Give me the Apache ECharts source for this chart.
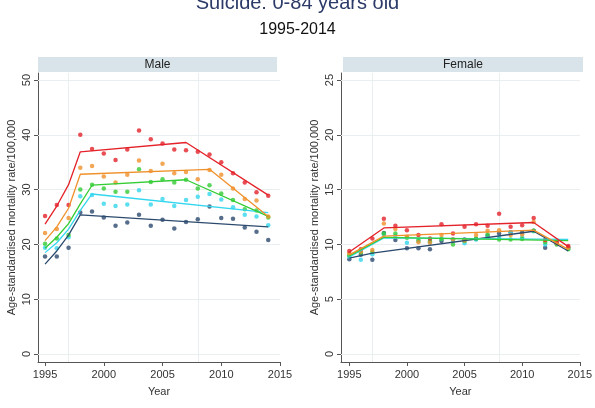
<!DOCTYPE html>
<html>
<head>
<meta charset="utf-8">
<script src="https://cdn.jsdelivr.net/npm/echarts@6/dist/echarts.min.js"></script>
<style>html,body{margin:0;padding:0;background:#fff;}#c{width:595px;height:408px;}</style>
</head>
<body>
<div id="c"></div>
<script>
const n = null;
const years = [1995,1996,1997,1998,1999,2000,2001,2002,2003,2004,2005,2006,2007,2008,2009,2010,2011,2012,2013,2014];
const xTicks = [1995,2000,2005,2010,2015];
const xGridYears = [1997,2008];
const maleYTicks = [0,10,20,30,40,50];
const femaleYTicks = [0,5,10,15,20,25];

// Male observed rates
const maleRed    = [25.2,27.2,27.2,40.0,37.4,36.6,35.4,37.3,40.8,39.2,38.4,37.3,37.2,36.9,36.4,35.0,33.0,31.3,29.5,28.9];
const maleOrange = [22.1,22.8,24.8,34.0,34.3,32.4,31.3,32.7,35.3,33.4,34.7,33.0,33.2,31.9,33.6,32.7,30.2,28.3,28.0,25.1];
const maleGreen  = [20.1,21.1,21.7,30.0,30.9,30.2,29.6,29.6,33.7,31.4,31.9,31.3,31.8,30.2,30.8,29.3,28.1,26.4,26.2,24.9];
const maleCyan   = [19.4,19.3,21.3,28.8,29.0,27.4,27.0,27.3,29.9,27.3,28.3,27.0,28.1,28.7,29.2,28.2,26.8,25.4,25.1,23.5];
const maleNavy   = [17.8,17.8,19.4,25.8,26.0,24.9,23.4,24.0,25.4,23.4,24.5,22.9,24.1,24.6,26.9,24.8,24.7,23.1,22.3,20.8];
// Male fitted
const maleRedFit    = [23.7,27.0,30.9,36.9,n,n,n,n,n,n,n,n,38.6,n,n,n,n,n,n,29.0];
const maleOrangeFit = [20.7,23.2,26.6,32.8,n,n,n,n,n,n,n,n,n,n,33.7,n,n,n,n,25.1];
const maleGreenFit  = [19.3,21.3,23.8,27.4,30.8,n,n,n,n,n,n,n,31.8,n,n,n,n,n,n,25.1];
const maleCyanFit   = [18.5,20.3,22.8,26.2,29.2,n,n,n,n,n,n,n,n,n,n,n,n,n,n,25.8];
const maleNavyFit   = [16.4,18.8,21.7,25.4,n,n,n,n,n,n,n,n,n,n,n,n,n,n,n,23.2];

// Female observed rates
const femaleRed    = [9.4,9.55,10.55,12.35,11.7,11.3,10.85,10.55,11.85,11.0,11.6,11.85,11.7,12.8,11.6,11.75,12.4,10.4,10.2,9.85];
const femaleOrange = [9.2,9.35,9.5,11.9,11.4,10.7,10.2,10.15,10.85,10.45,10.35,10.85,11.25,11.3,10.85,10.9,12.05,10.4,10.1,9.7];
const femaleGreen  = [9.0,9.25,9.3,11.0,11.0,10.6,10.4,10.3,10.5,10.0,10.3,10.55,10.9,10.45,10.45,10.5,11.25,10.2,10.0,9.55];
const femaleCyan   = [8.9,8.6,9.1,10.9,10.8,10.15,10.3,10.2,10.5,10.3,10.1,10.45,10.7,10.6,11.1,10.65,11.2,10.0,10.05,9.6];
const femaleNavy   = [8.65,9.05,8.6,11.05,10.4,9.65,9.65,9.55,10.3,10.45,10.45,10.5,10.8,11.0,11.1,11.1,11.25,9.7,10.2,9.75];
// Female fitted
const femaleRedFit    = [9.3,n,n,11.5,n,n,n,n,n,n,n,n,n,n,n,n,12.0,n,n,9.8];
const femaleOrangeFit = [9.05,n,n,10.75,n,n,n,n,n,n,n,n,n,n,n,n,11.3,n,n,9.55];
const femaleGreenFit  = [8.95,n,n,10.65,n,n,n,n,n,n,n,n,n,n,n,n,n,n,n,10.35];
const femaleCyanFit   = [8.85,n,n,10.6,n,n,n,n,n,n,n,n,n,n,n,n,n,n,n,10.45];
const femaleNavyFit   = [8.75,n,9.2,n,n,n,n,n,n,n,n,n,n,n,n,n,11.2,n,n,9.4];

const COLORS = {red:'#e4222a', orange:'#f0902a', green:'#33cc33', cyan:'#33d6ee', navy:'#2c4a6e'};
const FONT = 'Liberation Sans, Arial, sans-serif';

function pairs(arr){ return years.map((y,i)=>[y,arr[i]]).filter(p=>p[1]!=null); }

const chart = echarts.init(document.getElementById('c'), null, {renderer:'canvas'});

const grids = [
  {left:38, top:73, width:242, height:289},
  {left:341, top:73, width:243, height:289}
];

function xAxisDef(idx, min){
  return {
    type:'value', gridIndex:idx, min:min, max:2015,
    name:'Year', nameLocation:'middle', nameGap:24,
    nameTextStyle:{fontFamily:FONT, fontSize:11, color:'#333'},
    axisLine:{show:true, onZero:false, lineStyle:{color:'#555', width:1}},
    axisTick:{show:true, length:4, customValues:xTicks, lineStyle:{color:'#555'}},
    axisLabel:{customValues:xTicks, formatter:v=>String(v), fontFamily:FONT, fontSize:11, color:'#333', margin:7},
    splitLine:{show:false}
  };
}
function yAxisDef(idx, min, max, ticks){
  return {
    type:'value', gridIndex:idx, min:min, max:max,
    name:'Age-standardised mortality rate/100,000', nameLocation:'middle', nameGap:21,
    nameTextStyle:{fontFamily:FONT, fontSize:11, color:'#333'},
    axisLine:{show:true, onZero:false, lineStyle:{color:'#555', width:1}},
    axisTick:{show:true, length:4, customValues:ticks, lineStyle:{color:'#555'}},
    axisLabel:{customValues:ticks, formatter:v=>String(v), rotate:90, fontFamily:FONT, fontSize:11, color:'#333', margin:6},
    splitLine:{show:false}
  };
}

function gridMarkLine(yticks){
  const data = yticks.map(v=>({yAxis:v})).concat(xGridYears.map(v=>({xAxis:v})));
  return {silent:true, z:1, symbol:'none', label:{show:false}, animation:false,
    lineStyle:{color:'#e9eef1', width:1, type:'solid'}, data:data};
}

function seriesFor(idx, obs, fits, yticks){
  const out = [];
  const order = ['navy','cyan','green','orange','red'];
  order.forEach((k,i)=>{
    const s = {type:'scatter', xAxisIndex:idx, yAxisIndex:idx, data:pairs(obs[k]),
      symbol:'circle', symbolSize:4.5, itemStyle:{color:COLORS[k]}, z:10, animation:false};
    if (i === 0) s.markLine = gridMarkLine(yticks);
    out.push(s);
  });
  order.forEach(k=>{
    out.push({type:'line', xAxisIndex:idx, yAxisIndex:idx, data:pairs(fits[k]),
      showSymbol:false, symbol:'none', lineStyle:{color:COLORS[k], width:1.3}, z:11, animation:false});
  });
  return out;
}

const series = [
  ...seriesFor(0, {red:maleRed, orange:maleOrange, green:maleGreen, cyan:maleCyan, navy:maleNavy},
                  {red:maleRedFit, orange:maleOrangeFit, green:maleGreenFit, cyan:maleCyanFit, navy:maleNavyFit}, maleYTicks),
  ...seriesFor(1, {red:femaleRed, orange:femaleOrange, green:femaleGreen, cyan:femaleCyan, navy:femaleNavy},
                  {red:femaleRedFit, orange:femaleOrangeFit, green:femaleGreenFit, cyan:femaleCyanFit, navy:femaleNavyFit}, femaleYTicks)
];

function header(x, w, label){
  return {
    type:'group', left:x, top:57,
    children:[
      {type:'rect', shape:{x:0, y:0, width:w, height:15}, style:{fill:'#d9e4ea'}},
      {type:'text', x:w/2, y:7.5, style:{text:label, fontFamily:FONT, fontSize:12, fill:'#222', align:'center', verticalAlign:'middle'}}
    ]
  };
}

chart.setOption({
  animation:false,
  backgroundColor:'#fff',
  title:[
    {text:'Suicide: 0-84 years old', left:'center', top:-12, textStyle:{fontFamily:FONT, fontSize:20, fontWeight:'normal', color:'#2b3a68'}},
    {text:'1995-2014', left:'center', top:17, textStyle:{fontFamily:FONT, fontSize:16, fontWeight:'normal', color:'#111'}}
  ],
  grid:grids,
  xAxis:[xAxisDef(0, 1994.4), xAxisDef(1, 1994.28)],
  yAxis:[yAxisDef(0, -1.46, 51.28, maleYTicks), yAxisDef(1, -0.73, 25.64, femaleYTicks)],
  series:series,
  graphic:[header(38, 239, 'Male'), header(343, 240, 'Female')]
});
</script>
</body>
</html>
